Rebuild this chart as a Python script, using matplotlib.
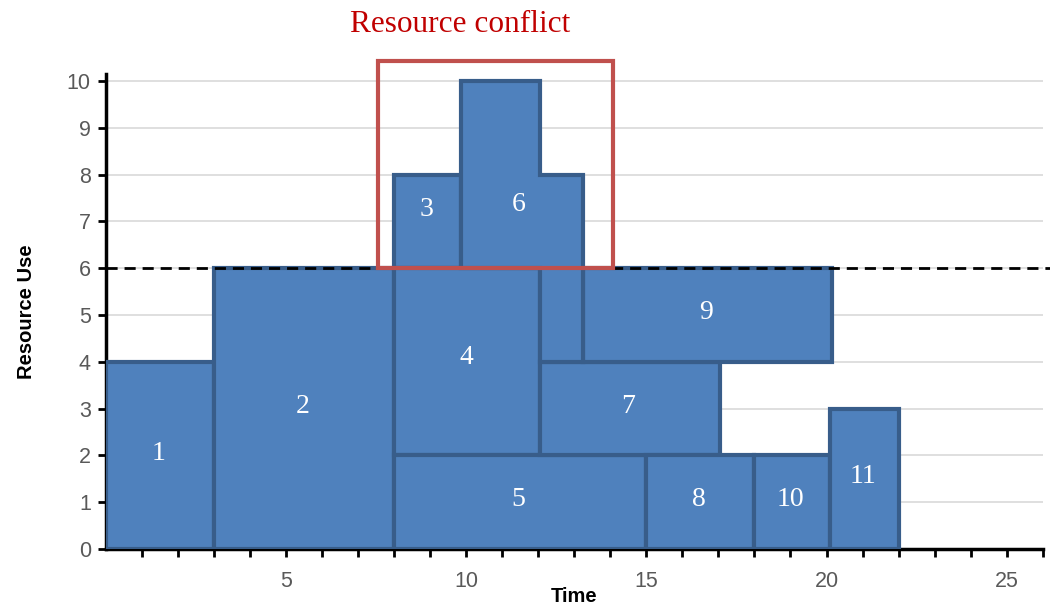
import matplotlib.pyplot as plt
from matplotlib.patches import Rectangle, Polygon

# rectangular activities: id, start, end, bottom, top (resource units)
act_ids = ['1', '2', '3', '4', '5', '7', '8', '9', '10', '11']
act_start = [0, 3, 8, 8, 8, 12.05, 15, 13.25, 18, 20.1]
act_end = [3, 8, 9.85, 12.05, 15, 17.05, 18, 20.15, 20.1, 22]
act_bottom = [0, 0, 6, 2, 0, 2, 0, 4, 0, 0]
act_top = [4, 6, 8, 6, 2, 4, 2, 6, 2, 3]

# activity 6 is not a plain rectangle
act6_time = [9.85, 9.85, 12.05, 12.05, 13.25, 13.25, 12.05, 12.05]
act6_use = [6, 10, 10, 8, 8, 4, 4, 6]

# label positions
label_ids = ['1', '2', '3', '4', '5', '6', '7', '8', '9', '10', '11']
label_x = [1.45, 5.45, 8.9, 10, 11.45, 11.45, 14.5, 16.45, 16.65, 19, 21]
label_y = [2.05, 3.05, 7.25, 4.1, 1.05, 7.35, 3.05, 1.05, 5.05, 1.05, 1.55]

capacity = 6
conflict_box = (7.55, 6.0, 14.08, 10.43)

fill = '#4F81BD'
edge = '#385D8A'


def main():
    fig = plt.figure(figsize=(10.5, 6.06), dpi=100)
    ax = fig.add_axes([0.101, 0.094, 0.892, 0.784])
    ax.set_xlim(0, 26)
    ax.set_ylim(0, 10.15)

    for y in range(1, 11):
        ax.axhline(y, color='#D9D9D9', lw=1.2, zorder=0)

    for s, e, b, t in zip(act_start, act_end, act_bottom, act_top):
        ax.add_patch(Rectangle((s, b), e - s, t - b, facecolor=fill,
                               edgecolor=edge, lw=3, zorder=2))
    ax.add_patch(Polygon(list(zip(act6_time, act6_use)), closed=True,
                         facecolor=fill, edgecolor=edge, lw=3, zorder=2))

    for lab, x, y in zip(label_ids, label_x, label_y):
        ax.text(x, y, lab, color='white', fontsize=20, family='Liberation Serif',
                ha='center', va='center', zorder=4)

    ax.plot([0, 26.2], [capacity, capacity], color='black', lw=2,
            ls=(0, (4, 2.5)), clip_on=False, zorder=3)

    x0, y0, x1, y1 = conflict_box
    ax.add_patch(Rectangle((x0, y0), x1 - x0, y1 - y0, fill=False,
                           edgecolor='#C0504D', lw=3, clip_on=False, zorder=5))
    ax.text(9.83, 11.2, 'Resource conflict', color='#C00000',
            fontsize=22.5, family='Liberation Serif', ha='center', va='center')

    for side in ['top', 'right']:
        ax.spines[side].set_visible(False)
    for side in ['left', 'bottom']:
        ax.spines[side].set_linewidth(2.5)
        ax.spines[side].set_zorder(1)

    ax.set_xticks(range(1, 27))
    ax.set_xticklabels([str(i) if i % 5 == 0 else '' for i in range(1, 27)])
    ax.set_yticks(range(0, 11))
    ax.tick_params(axis='both', colors='black', width=2, length=6,
                   labelcolor='#595959', labelsize=15.5)
    ax.tick_params(axis='y', pad=5)
    ax.tick_params(axis='x', pad=10)
    for t in ax.get_xticklabels() + ax.get_yticklabels():
        t.set_family('Liberation Sans')

    ax.set_xlabel('Time', fontsize=14.5, fontweight='bold', family='Liberation Sans',
                  labelpad=-4)
    ax.set_ylabel('Resource Use', fontsize=14.5, fontweight='bold',
                  family='Liberation Sans', labelpad=22)

    fig.savefig('out.png', dpi=100)


if __name__ == '__main__':
    main()
